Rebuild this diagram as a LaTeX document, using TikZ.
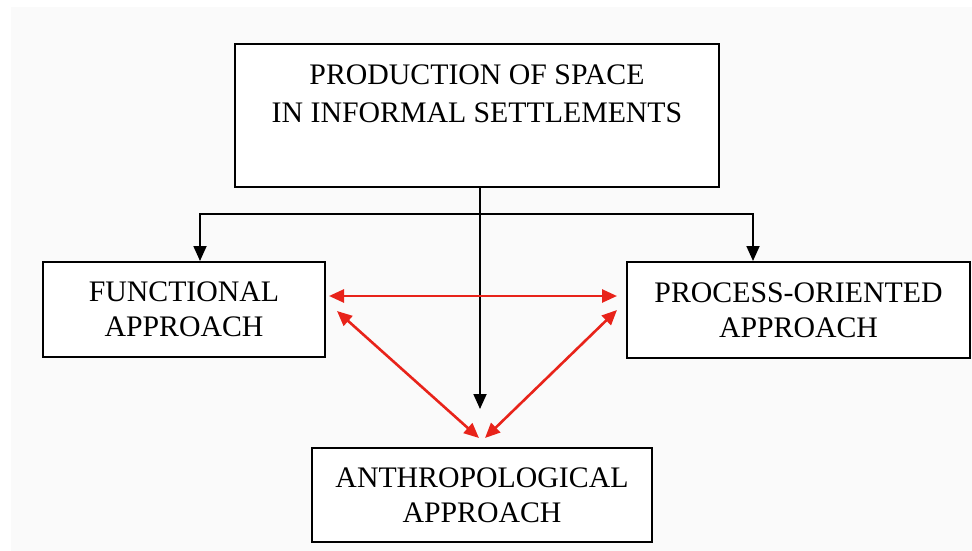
\documentclass[tikz,border=0pt]{standalone}
\usepackage{fontspec}
\setmainfont{Liberation Serif}
\usetikzlibrary{arrows.meta,calc}
\definecolor{arrred}{HTML}{E8231A}
\definecolor{bgc}{HTML}{FAFAFA}
\begin{document}
\begin{tikzpicture}[x=1pt,y=-1pt,
  box/.style={draw=black, line width=2pt, fill=white, align=center, inner sep=0pt,
    font=\fontsize{29.8}{35}\selectfont},
  blk/.style={draw=black, line width=1.8pt, -{Triangle[length=15pt,width=13pt]}},
  redarr/.style={draw=arrred, line width=2.6pt, {Triangle[length=15pt,width=13pt]}-{Triangle[length=15pt,width=13pt]}},
  lbl/.style={align=center, inner sep=0pt, font=\fontsize{29.8}{38}\selectfont}
]
\useasboundingbox (0,0) rectangle (972,551);
\fill[white] (0,0) rectangle (972,551);
\fill[bgc] (11,7) rectangle (972,551);

\node[box, minimum width=484pt, minimum height=143pt,
  label={[lbl, yshift=22pt]center:PRODUCTION OF SPACE\\IN INFORMAL SETTLEMENTS}]
  (top) at (477,115.5) {};
\node[box, minimum width=282pt, minimum height=95pt] (func) at (184,309.5) {FUNCTIONAL\\APPROACH};
\node[box, minimum width=343pt, minimum height=96pt] (proc) at (798.5,310) {PROCESS-ORIENTED\\APPROACH};
\node[box, minimum width=340pt, minimum height=94pt] (anth) at (482,495) {ANTHROPOLOGICAL\\APPROACH};

\coordinate (j) at (480,214);
\draw[blk] (top.south -| j) -- ([yshift=38pt]anth.north -| j);
\draw[blk] (j) -| ([xshift=16pt]func.north);
\draw[blk] (j) -| ([xshift=-45.5pt]proc.north);

\draw[redarr] ([shift={(3,-13.5)}]func.east) -- ([shift={(-9,-14)}]proc.west);
\draw[redarr] ([shift={(11,1.5)}]func.east) -- ([shift={(-3,-9)}]anth.north);
\draw[redarr] ([shift={(-9,0)}]proc.west) -- ([shift={(3,-9)}]anth.north);
\end{tikzpicture}
\end{document}
